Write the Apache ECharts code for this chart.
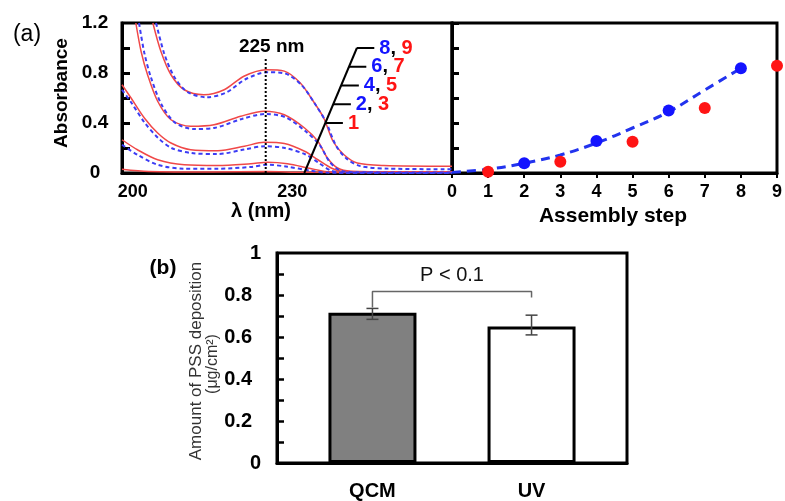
<!DOCTYPE html>
<html>
<head>
<meta charset="utf-8">
<script src="https://cdn.jsdelivr.net/npm/echarts@6/dist/echarts.min.js"></script>
<style>
html, body { margin: 0; padding: 0; background: #fff; }
#main { width: 785px; height: 501px; }
</style>
</head>
<body>
<div id="main"></div>
<script>
var myChart = echarts.init(document.getElementById('main'));
var FONT = 'Arial, "Liberation Sans", sans-serif';

// (a) spectra, [wavelength nm, absorbance]
var red1 = [[198,0.03],[203,0.012],[215,0.008],[225,0.012],[232,0.006],[260,0.004]];
var blue2 = [[198,0.226],[200.9,0.146],[204.7,0.066],[209.7,0.034],[216,0.034],[222.2,0.048],[225.4,0.066],[229.1,0.05],[233.2,0.02],[236.5,0.003],[260,0]];
var red3 = [[198,0.266],[200.9,0.186],[204.7,0.106],[209.7,0.066],[216,0.06],[222.2,0.074],[225.4,0.086],[229.1,0.074],[233.2,0.038],[236.5,0.01],[240,0.004],[260,0.004]];
var blue4 = [[198,0.666],[199.8,0.56],[202.3,0.40],[204.8,0.28],[207.3,0.20],[211,0.16],[216,0.152],[221,0.188],[224.8,0.214],[228.6,0.2],[232.4,0.15],[235,0.08],[237.2,0.02],[239.5,0.003],[260,0]];
var red5 = [[198,0.706],[199.7,0.6],[202.2,0.44],[204.7,0.32],[207.2,0.24],[210.9,0.186],[216,0.178],[221,0.214],[224.7,0.246],[228.5,0.236],[232.3,0.174],[234.8,0.106],[237.3,0.04],[239.2,0.014],[245,0.008],[260,0.008]];
var blue6 = [[201.2,1.2],[202.2,0.96],[203.4,0.77],[205.4,0.55],[207.9,0.405],[211.4,0.352],[215.5,0.362],[220.5,0.432],[224.9,0.472],[228.7,0.446],[232.6,0.33],[235.2,0.22],[237,0.09],[239,0.02],[242,0.006],[260,0.004]];
var red7 = [[200.6,1.2],[201.6,0.97],[202.8,0.786],[204.7,0.574],[207.2,0.426],[210.9,0.374],[215.3,0.386],[220.3,0.454],[224.7,0.494],[228.5,0.466],[232.3,0.36],[234.8,0.254],[236.6,0.12],[238.5,0.04],[241,0.014],[250,0.01],[260,0.01]];
var blue8 = [[204.4,1.2],[205.9,0.96],[207.8,0.77],[210.3,0.648],[213.9,0.606],[217.6,0.644],[221.2,0.75],[225.3,0.806],[228.7,0.795],[231.8,0.70],[234.3,0.55],[236.3,0.41],[238.2,0.22],[240.2,0.115],[242.8,0.055],[248,0.035],[260,0.03]];
var red9 = [[203.8,1.2],[205.3,0.974],[207.2,0.786],[209.7,0.666],[213.4,0.626],[217.2,0.666],[220.9,0.774],[225.1,0.826],[228.5,0.815],[231.5,0.72],[234,0.57],[235.9,0.44],[237.7,0.25],[239.7,0.146],[242.2,0.08],[247.2,0.06],[260,0.054]];

// leader lines and their step labels
var diagLine = [[232.25,0],[242.13,1.0]];
var leaderY = [1.0, 0.85, 0.7, 0.55, 0.4];
var leaderX0 = [242.1, 240.6, 239.2, 237.7, 236.2];
var leaderX1 = [245.4, 243.9, 242.5, 241.0, 239.5];
var leaderText = [['8','9'],['6','7'],['4','5'],['2','3'],[null,'1']];
var peakLine = [[225,0],[225,0.92]];

// (a) right: absorbance at 225 nm vs assembly step
var blueSteps = [[2,0.078],[4,0.256],[6,0.50],[8,0.838]];
var redSteps = [[1,0.01],[3,0.09],[5,0.25],[7,0.52],[9,0.858]];
var blueFit = [[0,0.005],[1,0.03],[2,0.078],[3,0.144],[4,0.24],[5,0.36],[6,0.49],[7,0.664],[8,0.838]];

// (b) PSS deposition
var barCats = ['QCM', 'UV'];
var barVals = [0.716, 0.65];
var barErrLo = [0.684, 0.61];
var barErrHi = [0.736, 0.704];
var barColors = ['#808080', '#ffffff'];
var bracket = [[1,0.74],[1,0.817],[2,0.817],[2,0.788]];

var REDC = '#f04848', BLUEC = '#3c3cf5';

function spec(data, isBlue) {
  return {
    type: 'line', xAxisIndex: 0, yAxisIndex: 0, data: data,
    symbol: 'none', smooth: 0.3, z: isBlue ? 3 : 2,
    lineStyle: isBlue ? { color: BLUEC, width: 2, type: [4, 3] } : { color: REDC, width: 1.5 }
  };
}

var series = [
  spec(red1, false), spec(red3, false), spec(red5, false), spec(red7, false), spec(red9, false),
  spec(blue2, true), spec(blue4, true), spec(blue6, true), spec(blue8, true),
  {
    type: 'line', xAxisIndex: 0, yAxisIndex: 0, data: peakLine, symbol: 'none',
    lineStyle: { color: '#000', width: 2, type: 'dotted' }, z: 4
  },
  {
    type: 'scatter', xAxisIndex: 0, yAxisIndex: 0, data: [peakLine[1]], symbolSize: 0, clip: false,
    itemStyle: { opacity: 1 },
    label: { show: true, position: 'top', distance: 2, offset: [6, 0], formatter: '225 nm',
      fontFamily: FONT, fontWeight: 'bold', fontSize: 19, color: '#000' }
  },
  {
    type: 'line', xAxisIndex: 0, yAxisIndex: 0, data: diagLine, symbol: 'none',
    lineStyle: { color: '#000', width: 2 }, z: 5
  }
];

leaderY.forEach(function (y, i) {
  series.push({
    type: 'line', xAxisIndex: 0, yAxisIndex: 0, symbol: 'none',
    data: [[leaderX0[i], y], [leaderX1[i], y]],
    lineStyle: { color: '#000', width: 2 }, z: 5
  });
});

series.push({
  type: 'scatter', xAxisIndex: 0, yAxisIndex: 0, symbolSize: 0, clip: false,
  itemStyle: { opacity: 1 },
  data: leaderY.map(function (y, i) { return [leaderX1[i], y]; }),
  label: {
    show: true, position: 'right', distance: 5,
    formatter: function (p) {
      var t = leaderText[p.dataIndex];
      return t[0] ? '{b|' + t[0] + '}{k|, }{r|' + t[1] + '}' : '{r|' + t[1] + '}';
    },
    rich: {
      b: { color: '#1414ff', fontFamily: FONT, fontWeight: 'bold', fontSize: 20 },
      k: { color: '#000', fontFamily: FONT, fontWeight: 'bold', fontSize: 20 },
      r: { color: '#ff1414', fontFamily: FONT, fontWeight: 'bold', fontSize: 20 }
    }
  }
});

series.push(
  {
    type: 'line', xAxisIndex: 1, yAxisIndex: 1, data: blueFit, symbol: 'none', smooth: 0.4,
    lineStyle: { color: '#2233ee', width: 3, type: [9, 6] }, z: 2
  },
  {
    type: 'scatter', xAxisIndex: 1, yAxisIndex: 1, data: blueSteps, symbolSize: 12, clip: false,
    itemStyle: { color: '#1414ff', opacity: 1 }, z: 3
  },
  {
    type: 'scatter', xAxisIndex: 1, yAxisIndex: 1, data: redSteps, symbolSize: 12, clip: false,
    itemStyle: { color: '#ff1414', opacity: 1 }, z: 3
  },
  {
    type: 'bar', xAxisIndex: 2, yAxisIndex: 2, barWidth: 88,
    data: barVals.map(function (v, i) {
      return { value: [i + 1, v], itemStyle: { color: barColors[i], borderColor: '#000', borderWidth: 3 } };
    })
  },
  {
    type: 'custom', xAxisIndex: 2, yAxisIndex: 2, z: 5,
    data: barVals.map(function (v, i) { return [i + 1, barErrLo[i], barErrHi[i]]; }),
    encode: { x: 0, y: [1, 2] },
    renderItem: function (params, api) {
      var lo = api.coord([api.value(0), api.value(1)]);
      var hi = api.coord([api.value(0), api.value(2)]);
      var w = 6, st = { stroke: '#444', lineWidth: 1.5 };
      return { type: 'group', children: [
        { type: 'line', shape: { x1: lo[0], y1: lo[1], x2: hi[0], y2: hi[1] }, style: st },
        { type: 'line', shape: { x1: lo[0] - w, y1: lo[1], x2: lo[0] + w, y2: lo[1] }, style: st },
        { type: 'line', shape: { x1: hi[0] - w, y1: hi[1], x2: hi[0] + w, y2: hi[1] }, style: st }
      ] };
    }
  },
  {
    type: 'line', xAxisIndex: 2, yAxisIndex: 2, data: bracket, symbol: 'none',
    lineStyle: { color: '#666', width: 1.5 }, z: 5
  },
  {
    type: 'scatter', xAxisIndex: 2, yAxisIndex: 2, data: [[1.5, 0.817]], symbolSize: 0, clip: false,
    itemStyle: { opacity: 1 },
    label: { show: true, position: 'top', distance: 6, formatter: 'P < 0.1',
      fontFamily: FONT, fontSize: 20, color: '#111' }
  }
);

var axisLine = { show: true, onZero: false, lineStyle: { color: '#000', width: 3 } };
var boldLabel = { fontFamily: FONT, fontWeight: 'bold', color: '#000' };

var option = {
  animation: false,
  backgroundColor: '#fff',
  grid: [
    { left: 122, top: 23, width: 330, height: 150, show: true, borderColor: '#000', borderWidth: 3 },
    { left: 452, top: 23, width: 326, height: 150, show: true, borderColor: '#000', borderWidth: 3 },
    { left: 277, top: 253, width: 350, height: 212, show: true, borderColor: '#000', borderWidth: 3 }
  ],
  xAxis: [
    { type: 'value', gridIndex: 0, min: 198, max: 260, axisLine: axisLine, axisTick: { show: false },
      splitLine: { show: false },
      axisLabel: Object.assign({ customValues: [200, 230], fontSize: 18, margin: 10 }, boldLabel) },
    { type: 'value', gridIndex: 1, min: 0, max: 9, interval: 1, axisLine: axisLine, splitLine: { show: false },
      axisTick: { show: true, length: 5, lineStyle: { color: '#000', width: 2 } },
      axisLabel: Object.assign({ fontSize: 18, margin: 10 }, boldLabel) },
    { type: 'value', gridIndex: 2, min: 0.4, max: 2.6, axisLine: axisLine, axisTick: { show: false },
      splitLine: { show: false },
      axisLabel: Object.assign({ customValues: [1, 2], fontSize: 20, margin: 18,
        formatter: function (v) { return barCats[Math.round(v) - 1]; } }, boldLabel) }
  ],
  yAxis: [
    { type: 'value', gridIndex: 0, min: 0, max: 1.2, axisLine: axisLine, splitLine: { show: false },
      axisTick: { show: true, inside: true, length: 8, customValues: [0.2, 0.4, 0.6, 0.8, 1.0],
        lineStyle: { color: '#000', width: 3 } },
      axisLabel: Object.assign({ customValues: [0, 0.4, 0.8, 1.2], fontSize: 19, margin: 27, align: 'center' }, boldLabel) },
    { type: 'value', gridIndex: 1, min: 0, max: 1.2, interval: 0.2, axisLine: axisLine, splitLine: { show: false },
      axisTick: { show: true, inside: true, length: 7, lineStyle: { color: '#000', width: 3 } },
      axisLabel: { show: false } },
    { type: 'value', gridIndex: 2, min: 0, max: 1, axisLine: axisLine, splitLine: { show: false },
      axisTick: { show: true, inside: true, length: 7,
        customValues: [0.1, 0.2, 0.3, 0.4, 0.5, 0.6, 0.7, 0.8, 0.9],
        lineStyle: { color: '#000', width: 2.5 } },
      axisLabel: Object.assign({ customValues: [0, 0.2, 0.4, 0.6, 0.8, 1], fontSize: 20, margin: 16,
        formatter: function (v) { return (v === 0 || v === 1) ? String(v) : '{d|' + v + '}'; },
        rich: { d: { fontFamily: FONT, fontWeight: 'bold', fontSize: 20, color: '#000', padding: [0, 9, 0, 0] } }
      }, boldLabel) }
  ],
  graphic: [
    { type: 'text', x: 27, y: 35, style: { text: '(a)', font: '23px ' + FONT, fill: '#000',
      textAlign: 'center', textVerticalAlign: 'middle', align: 'center', verticalAlign: 'middle' } },
    { type: 'text', x: 163, y: 268, style: { text: '(b)', font: 'bold 21px ' + FONT, fill: '#000',
      textAlign: 'center', textVerticalAlign: 'middle', align: 'center', verticalAlign: 'middle' } },
    { type: 'text', x: 62, y: 93, rotation: Math.PI / 2, style: { text: 'Absorbance', font: 'bold 19px ' + FONT, fill: '#000',
      textAlign: 'center', textVerticalAlign: 'middle', align: 'center', verticalAlign: 'middle' } },
    { type: 'text', x: 261, y: 211, style: { text: 'λ (nm)', font: 'bold 20px ' + FONT, fill: '#000',
      textAlign: 'center', textVerticalAlign: 'middle', align: 'center', verticalAlign: 'middle' } },
    { type: 'text', x: 613, y: 216, style: { text: 'Assembly step', font: 'bold 21px ' + FONT, fill: '#000',
      textAlign: 'center', textVerticalAlign: 'middle', align: 'center', verticalAlign: 'middle' } },
    { type: 'text', x: 196, y: 361, rotation: Math.PI / 2, style: { text: 'Amount of PSS deposition', font: '17px ' + FONT, fill: '#333',
      textAlign: 'center', textVerticalAlign: 'middle', align: 'center', verticalAlign: 'middle' } },
    { type: 'text', x: 213, y: 364, rotation: Math.PI / 2, style: { text: '(μg/cm²)', font: '16px ' + FONT, fill: '#333',
      textAlign: 'center', textVerticalAlign: 'middle', align: 'center', verticalAlign: 'middle' } }
  ],
  series: series
};

myChart.setOption(option);
</script>
</body>
</html>
